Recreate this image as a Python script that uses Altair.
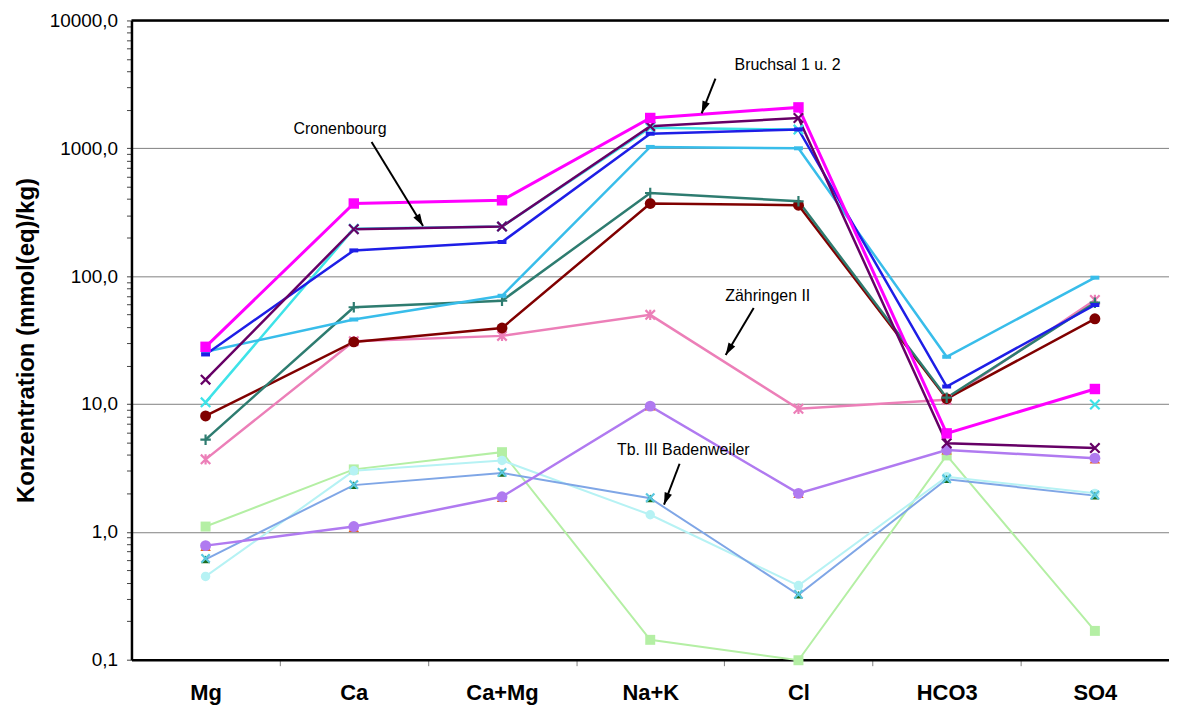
import math
import altair as alt
import pandas as pd

categories = ["Mg", "Ca", "Ca+Mg", "Na+K", "Cl", "HCO3", "SO4"]

# series values (mmol(eq)/kg); None = no value
s_lightgreen = [1.10, 3.08, 4.2, 0.143, 0.099, 3.96, 0.168]
s_palecyan = [0.448, 3.0, 3.62, 1.36, 0.38, 2.7, 2.0]
s_periwinkle = [0.61, 2.32, 2.89, 1.83, 0.322, 2.58, 1.92]
s_darkgreen = [0.61, 2.32, 2.89, 1.83, 0.322, 2.58, 1.92]
s_skyx = [0.62, 2.34, 2.92, 1.85, 0.325, 2.6, 1.94]
s_orange = [0.77, 1.08, 1.86, 9.63, 2.0, 4.37, 3.72]
s_violet = [0.78, 1.10, 1.88, 9.63, 2.0, 4.37, 3.77]
s_pink = [3.69, 31.0, 34.1, 49.8, 9.18, 10.8, 65.0]
s_maroon = [8.06, 30.6, 39.3, 370, 359, 11.0, 46.4]
s_teal = [5.26, 57.1, 64.2, 447, 385, 11.2, 62.0]
s_cyan = [10.3, 235, 245, 1450, 1400, None, 9.9]
s_sky = [25.6, 45.8, 70.2, 1025, 1000, 23.4, 97.3]
s_blue = [24.4, 159, 185, 1300, 1404, 13.7, 59.5]
s_purple = [15.5, 233, 244, 1490, 1726, 4.93, 4.53]
s_magenta = [28.0, 370, 392, 1726, 2089, 5.89, 13.1]

# annotations: label, x position (category index), value
ann_labels = ["Cronenbourg", "Bruchsal 1 u. 2", "Zähringen II", "Tb. III Badenweiler"]
ann_x = [0.907, 3.927, 3.793, 3.223]
ann_v = [1413, 4490, 70.2, 4.33]
arr_x1 = [1.12, 3.44, 3.698, 3.198]
arr_v1 = [1120, 3500, 56.4, 3.41]
arr_x2 = [1.467, 3.347, 3.509, 3.093]
arr_v2 = [247, 1878, 24.2, 1.63]

X_PATH = "M-1,-1L1,1M1,-1L-1,1"
AST_PATH = "M-1,-1L1,1M1,-1L-1,1M0,-1.1L0,1.1"
PLUS_PATH = "M-1,0L1,0M0,-1L0,1"
DASH_PATH = "M-1,-0.45L1,-0.45L1,0.45L-1,0.45Z"

# name, values, color, line width, shape, filled, size
series = [
    ("Serie 13", s_lightgreen, "#B4EFA4", 2, "square", True, 100),
    ("Serie 12", s_palecyan, "#B6F2F4", 2, "circle", True, 90),
    ("Serie 11", s_periwinkle, "#7FA6E6", 2, "circle", True, 10),
    ("Serie 10", s_darkgreen, "#1B6B1B", 0, "triangle-up", True, 80),
    ("Serie 9", s_skyx, "#5CC8E0", 0, X_PATH, False, 70),
    ("Serie 8", s_orange, "#E8601C", 0, "triangle-up", True, 110),
    ("Serie 7", s_violet, "#B07AF0", 2.5, "circle", True, 120),
    ("Serie 6", s_pink, "#EC7FB8", 2.5, AST_PATH, False, 90),
    ("Serie 5", s_maroon, "#800000", 2.5, "circle", True, 120),
    ("Serie 4", s_teal, "#2E7C70", 2.5, PLUS_PATH, False, 110),
    ("Serie 3", s_cyan, "#3EE3E8", 2.5, X_PATH, False, 90),
    ("Serie 2", s_sky, "#38BDEA", 2.5, DASH_PATH, True, 80),
    ("Serie 1b", s_blue, "#1E1EE6", 2.5, DASH_PATH, True, 80),
    ("Serie 1a", s_purple, "#660066", 2.5, X_PATH, False, 90),
    ("Serie 0", s_magenta, "#FF00FF", 3, "square", True, 110),
]

rows = []
for name, vals, *_ in series:
    for i, (c, v) in enumerate(zip(categories, vals)):
        rows.append({"series": name, "cat": c, "idx": i, "value": v})
df = pd.DataFrame(rows)

W, H = 1036, 642
px_per_idx = W / 7.0
px_per_dec = H / 5.0

ann_df = pd.DataFrame({"label": ann_labels, "idx": ann_x, "value": ann_v})
angles = []
for xa, va, xb, vb in zip(arr_x1, arr_v1, arr_x2, arr_v2):
    dx = (xb - xa) * px_per_idx
    dy = -(math.log10(vb) - math.log10(va)) * px_per_dec
    angles.append(math.degrees(math.atan2(dx, -dy)) % 360)
arr_df = pd.DataFrame({"idx": arr_x1, "value": arr_v1, "idx2": arr_x2,
                       "value2": arr_v2, "ang": angles})

minor = []
for d in [0.1, 1, 10, 100, 1000]:
    for k in range(1, 10):
        minor.append(round(d * k, 6))
minor.append(10000)

is_pow = "abs(log(datum.value)/LN10 - round(log(datum.value)/LN10)) < 0.001"
cat_arr = "[" + ",".join("'%s'" % c for c in categories) + "]"

xaxis = alt.Axis(
    values=[i * 0.5 for i in range(13)],
    labelExpr="datum.value % 1 == 0 ? " + cat_arr + "[datum.value] : ''",
    tickOpacity={"condition": {"test": "datum.value % 1 == 0", "value": 0}, "value": 1},
    tickColor="#808080", tickSize=6, tickWidth=1,
    domainColor="black", domainWidth=2.5,
    labelFont="Liberation Sans", labelFontSize=22, labelFontWeight="bold",
    labelColor="black", labelPadding=17, labelOverlap=False, labelFlush=False,
    grid=False, title=None,
)
yaxis = alt.Axis(
    values=minor,
    labelExpr=is_pow + " ? replace(format(datum.value, '.1f'), '.', ',') : ''",
    gridOpacity={"condition": {"test": is_pow, "value": 1}, "value": 0},
    gridColor="#808080", gridWidth=1, grid=True,
    tickColor="#444444", tickSize=5, tickWidth=1,
    domainColor="black", domainWidth=2.5,
    labelFont="Liberation Sans", labelFontSize=19, labelColor="black",
    labelPadding=9, labelOverlap=False, labelFlush=False,
    title="Konzentration (mmol(eq)/kg)", titleFont="Liberation Sans",
    titleFontSize=24, titleFontWeight="bold", titleColor="black", titlePadding=11,
)
xs = alt.Scale(domain=[-0.5, 6.5], nice=False, zero=False)
ys = alt.Scale(type="log", domain=[0.1, 10000], nice=False)

X = alt.X("idx:Q", scale=xs, axis=xaxis)
Y = alt.Y("value:Q", scale=ys, axis=yaxis)

layers = []
base = alt.Chart(df).encode(x=X, y=Y)
for name, vals, color, lw, shape, filled, size in series:
    if lw > 0:
        layers.append(base.transform_filter(alt.datum.series == name)
                      .mark_line(color=color, strokeWidth=lw,
                                 invalid="break-paths-filter-domains"))
for name, vals, color, lw, shape, filled, size in series:
    if filled:
        m = alt.Chart(df).mark_point(shape=shape, filled=True, color=color,
                                     size=size, opacity=1)
    else:
        m = alt.Chart(df).mark_point(shape=shape, filled=False, color=color,
                                     size=size, strokeWidth=2.2, opacity=1)
    layers.append(m.encode(x=X, y=Y).transform_filter(
        (alt.datum.series == name) & (alt.datum.value != None)))

top = alt.Chart(pd.DataFrame({"value": [10000]})).mark_rule(
    color="black", strokeWidth=2.5).encode(y=Y)

arrows = alt.Chart(arr_df).mark_rule(color="black", strokeWidth=2).encode(
    x=X, y=Y, x2="idx2:Q", y2="value2:Q")
heads = alt.Chart(arr_df).mark_point(
    shape="M0,0L-0.4,1.25L0.4,1.25Z", filled=True, color="black",
    size=380, opacity=1).encode(
    x=alt.X("idx2:Q", scale=xs, axis=xaxis),
    y=alt.Y("value2:Q", scale=ys, axis=yaxis),
    angle=alt.Angle("ang:Q", scale=None))
texts = alt.Chart(ann_df).mark_text(
    font="Liberation Sans", fontSize=16, color="black",
    align="center", baseline="middle").encode(x=X, y=Y, text="label:N")

chart = alt.layer(top, *layers, arrows, heads, texts).properties(
    width=W + 6, height=H,
    padding={"left": 124, "top": 11, "right": 0, "bottom": 44},
    autosize=alt.AutoSizeParams(type="none"),
).configure(background="white").configure_view(stroke="transparent", strokeWidth=0)

chart.save("out.html", embed_options={"renderer": "svg", "actions": False})
